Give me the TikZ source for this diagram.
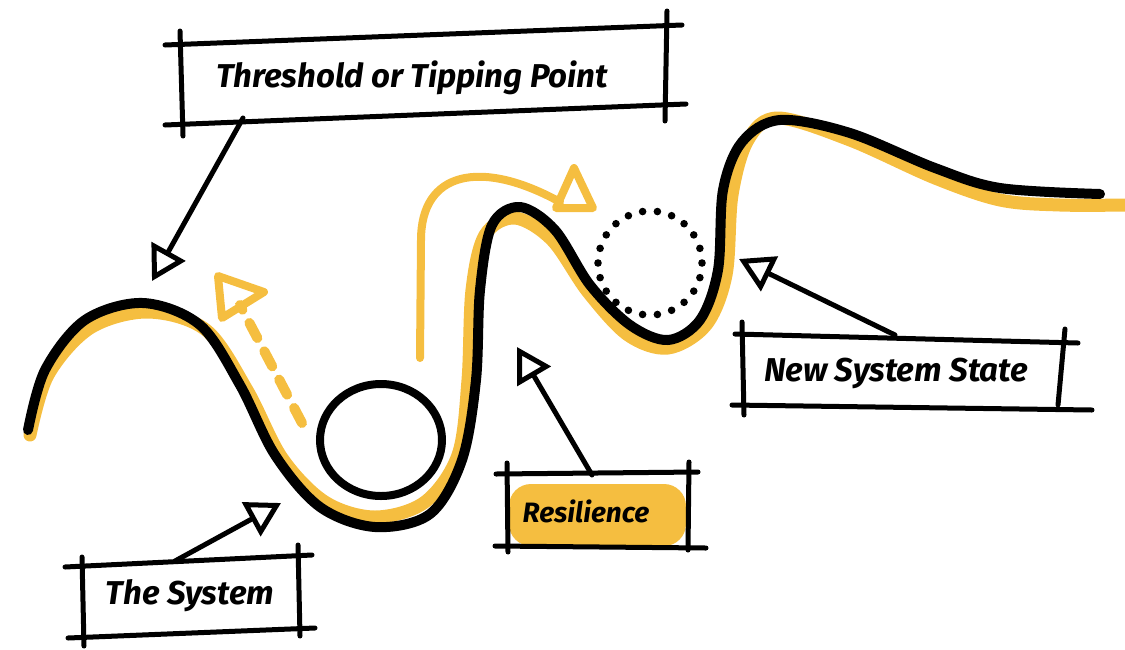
\documentclass[tikz,border=0pt]{standalone}
\usepackage{fontspec}
\setmainfont{Fira Sans}
\usetikzlibrary{arrows.meta}
\definecolor{ylw}{RGB}{245,190,64}
\begin{document}
\begin{tikzpicture}[x=1pt,y=-1pt,
  frame/.style={line width=5pt, line cap=round},
  curveblack/.style={line width=10pt, line cap=round, line join=round},
  curveyellow/.style={line width=13pt, draw=ylw, line cap=round, line join=round},
  pointer/.style={line width=5pt, line cap=round, line join=round,
    -{Triangle[open, length=34pt, width=38pt, line width=5pt]}},
  yhead/.style={line width=8pt, draw=ylw, line cap=round, line join=round},
  label/.style={font=\fontsize{33}{33}\selectfont\bfseries\itshape, inner sep=0pt},
]
\useasboundingbox (0,0) rectangle (1125,649);

% ---------- curves ----------
\draw[curveyellow] plot[smooth, tension=0.55] coordinates {
 (30,435) (48,375) (90,328) (148,312) (206,330) (247,390) (282,458)
 (325,502) (375,517) (425,502) (458,455) (468,380) (472,290) (485,235)
 (515,218) (552,240) (588,292) (628,335) (668,348) (706,325) (726,275)
 (732,195) (748,140) (778,118) (850,140) (935,178) (1000,200) (1060,205) (1125,205)};
\draw[curveblack] plot[smooth, tension=0.55] coordinates {
 (28,430) (45,370) (85,320) (143,303) (200,325) (240,385) (275,455)
 (320,507) (375,527) (430,514) (462,460) (476,380) (480,290) (492,225)
 (520,207) (555,230) (590,285) (630,325) (668,340) (700,320) (718,270)
 (723,190) (742,142) (780,120) (850,133) (935,168) (1000,188) (1100,194)};

% ---------- ball in valley ----------
\coordinate (ball) at (381,440);
\draw[line width=8pt] (ball) ellipse [x radius=61pt, y radius=56pt];

% ---------- dotted new state ----------
\coordinate (newball) at (650,263);
\foreach \i in {0,...,21}
  \fill ([shift={(\i*360/22:52pt)}]newball) circle (3.8pt);

% ---------- yellow dashed escape arrow ----------
\coordinate (ds) at (302,423);
\coordinate (de) at (240,305);
\draw[ylw, line width=10pt, dash pattern=on 17pt off 15pt, line cap=round] (ds) -- (de);
\coordinate (dh1) at (218,276);
\coordinate (dh2) at (264,292);
\coordinate (dh3) at (222,318);
\draw[yhead] (dh1) -- (dh2) -- (dh3) -- cycle;

% ---------- yellow path arrow over the hill ----------
\coordinate (ps) at (420,358);
\coordinate (pe) at (560,202);
\draw[ylw, line width=8pt, line cap=round] (ps) -- (421,240) .. controls (421,172) and (480,158) .. (pe);
\coordinate (ph1) at (574,168);
\coordinate (ph2) at (556,208);
\coordinate (ph3) at (593,208);
\draw[yhead] (ph1) -- (ph2) -- (ph3) -- cycle;

% ---------- Threshold box ----------
\node[label] (thr) at (412,78) {Threshold or Tipping Point};
\draw[frame] (165,45) -- (682,25);
\draw[frame] (165,125) -- (686,104);
\draw[frame] (180,31) -- (183,136);
\draw[frame] (667,11) -- (665,121);
\coordinate (thrA) at (243,118);
\coordinate (thrT) at (152,281);
\draw[pointer] (thrA) -- (thrT);

% ---------- The System box ----------
\node[label] (sys) at (190,596) {The System};
\draw[frame] (65,567) -- (312,555);
\draw[frame] (68,638) -- (315,628);
\draw[frame] (82,557) -- (84,646);
\draw[frame] (298,545) -- (300,636);
\coordinate (sysA) at (175,561);
\coordinate (sysT) at (281,503);
\draw[pointer] (sysA) -- (sysT);

% ---------- Resilience box ----------
\fill[ylw, rounded corners=22pt] (509,484) rectangle (686,546);
\node[label, font=\fontsize{28}{28}\selectfont\bfseries\itshape] (res) at (586,511) {Resilience};
\draw[frame] (496,474) -- (698,472);
\draw[frame] (495,546) -- (706,548);
\draw[frame] (507,463) -- (508,552);
\draw[frame] (689,462) -- (688,550);
\coordinate (resA) at (592,475);
\coordinate (resT) at (517,347);
\draw[pointer] (resA) -- (resT);

% ---------- New System State box ----------
\node[label] (nss) at (896,373) {New System State};
\draw[frame] (735,334) -- (1078,343);
\draw[frame] (732,405) -- (1092,410);
\draw[frame] (742,322) -- (744,415);
\draw[frame] (1065,329) -- (1058,405);
\coordinate (nssA) at (895,335);
\coordinate (nssT) at (739,259);
\draw[pointer] (nssA) -- (nssT);
\end{tikzpicture}
\end{document}
